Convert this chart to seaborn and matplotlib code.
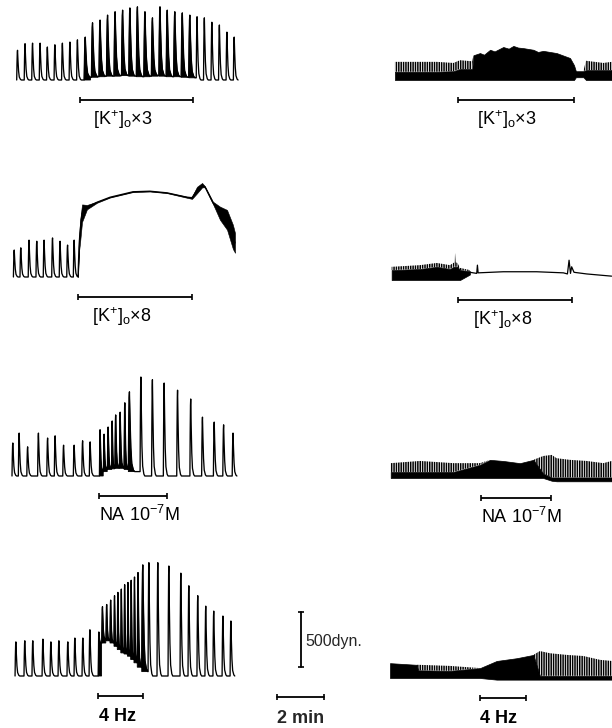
import matplotlib
matplotlib.use("Agg")
import matplotlib.pyplot as plt
import numpy as np
import pandas as pd
import seaborn as sns

sns.set_theme(style="white")
plt.rcParams.update({
    "font.family": ["Liberation Sans", "DejaVu Sans"],
    "mathtext.fontset": "custom",
    "mathtext.rm": "Liberation Sans",
    "mathtext.it": "Liberation Sans:italic",
    "mathtext.bf": "Liberation Sans:bold",
    "hatch.linewidth": 1.1,
    "hatch.color": "black",
})

# ---------------------------------------------------------------- data
# Left column: twitch onsets (min), peak force (dyn), trough force (dyn)
k3_t = [0.20, 0.52, 0.84, 1.16, 1.47, 1.79, 2.11, 2.43, 2.75, 3.07, 3.38, 3.70,
        4.02, 4.34, 4.66, 4.97, 5.29, 5.61, 5.93, 6.25, 6.56, 6.88, 7.20, 7.52,
        7.84, 8.15, 8.47, 8.79, 9.11, 9.42]
k3_peak = [270, 330, 335, 335, 300, 320, 335, 345, 365, 390, 520, 545, 590, 620,
           635, 655, 665, 620, 565, 665, 635, 620, 610, 590, 575, 565, 525, 500,
           435, 390]
k3_trough = [0, 0, 0, 0, 0, 0, 0, 0, 0, 25, 30, 35, 35, 40, 40, 35, 30, 35, 40,
             35, 30, 30, 25, 20, 0, 0, 0, 0, 0, 0]

k8_t = [0.06, 0.34, 0.69, 1.02, 1.33, 1.69, 2.01, 2.33, 2.61]
k8_peak = [245, 265, 335, 325, 335, 355, 325, 290, 335]
k8_trough = [0, 0, 0, 0, 0, 0, 0, 0, 0]
# contracture after the twitches
k8_ct = [2.81, 2.85, 2.89, 2.98, 3.19, 3.62, 4.17, 5.15, 5.87, 6.60, 7.45, 7.66,
         7.87, 8.09, 8.21, 8.55, 8.85, 9.15, 9.40, 9.49]
k8_cf = [0, 270, 400, 580, 635, 680, 725, 775, 780, 765, 725, 720, 790, 835,
         820, 675, 580, 520, 365, 310]
k8_noise = [0, 40, 100, 80, 20, 5, 3, 3, 3, 3, 5, 10, 30, 20, 5, 10, 60, 90,
            110, 90]

na_t = [0.00, 0.27, 0.63, 1.09, 1.48, 1.80, 2.16, 2.61, 2.97, 3.29,
        3.72, 3.89, 4.06, 4.24, 4.38, 4.57, 4.77, 4.95,
        5.45, 5.94, 6.44, 7.01, 7.57, 8.07, 8.57, 8.97, 9.37]
na_peak = [300, 390, 265, 390, 345, 365, 280, 280, 320, 310,
           420, 380, 445, 500, 555, 580, 665, 765,
           900, 875, 845, 780, 700, 535, 490, 465, 390]
na_trough = [0, 0, 0, 0, 0, 0, 0, 0, 0, 0,
             40, 60, 65, 70, 75, 70, 60, 40,
             0, 0, 0, 0, 0, 0, 0, 0, 0]

hz_t = [0.13, 0.51, 0.85, 1.28, 1.62, 1.96, 2.34, 2.64, 2.98, 3.28,
        3.67, 3.82, 4.00, 4.17, 4.34, 4.48, 4.63, 4.77, 4.91, 5.05, 5.19, 5.33, 5.52,
        5.79, 6.17, 6.64, 7.15, 7.49, 7.87, 8.21, 8.55, 8.94, 9.28]
hz_peak = [310, 320, 320, 335, 310, 320, 310, 345, 345, 420,
           400, 630, 650, 690, 730, 760, 790, 830, 850, 870, 900, 940, 1010,
           1030, 1030, 1000, 935, 820, 730, 635, 590, 545, 500]
hz_trough = [0, 0, 0, 0, 0, 0, 0, 0, 0, 0,
             300, 330, 320, 300, 270, 240, 210, 200, 180, 150, 120, 80, 40,
             0, 0, 0, 0, 0, 0, 0, 0, 0, 0]

# Right column: envelope of the fast record (min, dyn)
r1_t = [0.21, 1.28, 1.99, 2.70, 2.98, 3.50, 3.55, 3.83, 4.00, 4.26, 4.45, 4.82,
        5.05, 5.25, 5.45, 5.67, 6.10, 6.30, 6.52, 7.09, 7.66, 7.83, 7.91, 8.23,
        8.34, 9.08, 9.43]
r1_top = [165, 165, 165, 155, 180, 170, 225, 245, 230, 275, 260, 300, 285, 310,
          295, 290, 275, 255, 265, 245, 200, 135, 80, 80, 175, 155, 165]
r1_fused = [75, 75, 75, 80, 100, 100, 225, 245, 230, 275, 260, 300, 285, 310,
            295, 290, 275, 255, 265, 245, 200, 135, 80, 80, 90, 90, 90]
r1_bottom = [0, 0, 0, 0, 0, 0, 0, 0, 0, 0, 0, 0, 0, 0, 0, 0, 0, 0, 0, 0, 0, 0,
             25, 25, 0, 0, 0]

r2_t = [0.07, 1.28, 1.99, 2.55, 2.70, 2.74, 2.77, 2.80, 2.87, 2.98, 3.40]
r2_top = [120, 135, 155, 135, 155, 160, 245, 160, 155, 110, 90]
r2_fused = [90, 100, 120, 100, 120, 120, 120, 120, 120, 90, 80]
r2_bottom = [0, 0, 0, 0, 0, 0, 0, 0, 0, 0, 50]
r2_line_t = [3.40, 3.69, 3.72, 3.75, 4.82, 6.24, 7.38, 7.55, 7.62, 7.68, 7.73,
             7.83, 8.37, 9.43]
r2_line_f = [70, 60, 135, 65, 75, 75, 65, 55, 180, 60, 120, 70, 55, 35]

r3_t = [0.03, 1.28, 2.70, 3.83, 4.26, 4.82, 5.53, 6.10, 6.52, 6.88, 7.09, 7.66,
        8.37, 9.08, 9.43]
r3_top = [135, 155, 135, 135, 165, 155, 135, 165, 200, 210, 180, 165, 155, 135, 155]
r3_fused = [55, 55, 55, 120, 165, 155, 135, 165, 40, 5, 5, 5, 5, 5, 5]
r3_bottom = [0, 0, 0, 0, 0, 0, 0, 0, 0, -25, -30, -30, -30, -30, -30]

r4_t = [0.00, 1.13, 1.20, 2.55, 3.83, 4.54, 5.39, 6.10, 6.38, 6.81, 7.52, 8.23,
        8.94, 9.43]
r4_top = [135, 120, 120, 110, 90, 155, 180, 210, 245, 225, 210, 200, 165, 155]
r4_fused = [135, 120, 70, 65, 90, 155, 180, 210, 20, 20, 20, 20, 20, 20]
r4_bottom = [0, 0, 0, 0, 0, -15, -15, -15, -15, -15, -15, -15, -15, -15]

# Stimulus periods (min) and labels
K3_LABEL = r"$[\mathrm{K}^{+}]_{\mathrm{o}}{\times}3$"
K8_LABEL = r"$[\mathrm{K}^{+}]_{\mathrm{o}}{\times}8$"
NA_LABEL = r"NA 10$^{-7}$M"
HZ_LABEL = "4 Hz"
left_stim = [(2.89, 7.70), (2.81, 7.66), (3.70, 6.60), (3.66, 5.57)]
right_stim = [(2.89, 7.83), (2.89, 7.74), (3.87, 6.85), (3.83, 5.79)]

CAL_FORCE = 500   # dyn
CAL_TIME = 2      # min

# ---------------------------------------------------------------- layout
W, H = 612, 728
PX_PER_MIN = 23.5
PX_PER_DYN = 55 / 500
LEFT_T0, RIGHT_T0 = 12, 390
left_base = [80, 277, 476, 676]
right_base = [80, 280, 478, 678]
BAR_DROP = 19.5
LABEL_DROP = 45

# twitch template: (min after onset, fraction of the amplitude)
SHAPE_UP = [(0.00, 0.0), (0.012, 0.55), (0.025, 0.92), (0.035, 1.0)]
SHAPE_DOWN = [(0.055, 0.65), (0.08, 0.30), (0.11, 0.10), (0.16, 0.02), (0.20, 0.0)]
FUSED_STRETCH = 1.35

fig = plt.figure(figsize=(W / 100, H / 100), dpi=100)
fig.patch.set_facecolor("white")


def panel(x0, x1, t0, base, above=130, below=60):
    ax = fig.add_axes([x0 / W, 1 - (base + below) / H, (x1 - x0) / W,
                       (above + below) / H])
    ax.set_xlim((x0 - t0) / PX_PER_MIN, (x1 - t0) / PX_PER_MIN)
    ax.set_ylim(-below / PX_PER_DYN, above / PX_PER_DYN)
    ax.set_axis_off()
    ax.patch.set_alpha(0)
    return ax


def twitches(times, peaks, troughs):
    xs, ys, fused = [], [], []
    level = 0.0
    span = SHAPE_DOWN[-1][0]
    for i, (t, p, r) in enumerate(zip(times, peaks, troughs)):
        s = FUSED_STRETCH if r > 0 else 1.0
        if i + 1 < len(times):
            s = min(s, 0.95 * (times[i + 1] - t) / span)
        sx, sy = [], []
        for dt, f in SHAPE_UP:
            sx.append(t + dt * s)
            sy.append(level + (p - level) * f)
        for dt, f in SHAPE_DOWN:
            sx.append(t + dt * s)
            sy.append(r + (p - r) * f)
        xs += sx
        ys += sy
        if r > 0:
            fused.append((sx, sy, min(level, r)))
        level = r
    return xs, ys, fused


def draw_trace(ax, xs, ys, fused):
    df = pd.DataFrame({"min": xs, "dyn": ys})
    sns.lineplot(data=df, x="min", y="dyn", sort=False, estimator=None,
                 color="black", lw=0.95, ax=ax)
    for sx, sy, lo in fused:
        ax.fill(sx + [sx[-1], sx[0]], sy + [lo, lo], color="black", lw=0.6)


def draw_fast(ax, t, top, fused, bottom):
    t = np.asarray(t)
    ax.fill_between(t, bottom, fused, color="black", lw=0.5)
    ax.fill_between(t, fused, top, facecolor="none", edgecolor="black",
                    hatch="|" * 7, lw=0)


def stim(ax, t0, t1, label, offset_px, bold=False, size=13):
    y = -BAR_DROP / PX_PER_DYN
    ax.plot([t0, t1], [y, y], color="black", lw=1.3, solid_capstyle="butt")
    ax.plot([t0, t1], [y, y], ls="none", marker="|", ms=5, mew=1.2,
            color="black")
    ax.text(t0 + offset_px / PX_PER_MIN, -LABEL_DROP / PX_PER_DYN, label,
            ha="left", va="baseline", fontsize=size,
            fontweight="bold" if bold else "normal", color="black")


left_axes = [panel(0, 378, LEFT_T0, b) for b in left_base]
right_axes = [panel(380, 612, RIGHT_T0, b) for b in right_base]

# row 1: [K+]o x3
draw_trace(left_axes[0], *twitches(k3_t, k3_peak, k3_trough))
draw_fast(right_axes[0], r1_t, r1_top, r1_fused, r1_bottom)

# row 2: [K+]o x8 — twitches then contracture
xs, ys, fz = twitches(k8_t, k8_peak, k8_trough)
draw_trace(left_axes[1], xs + k8_ct, ys + k8_cf, fz)
ct = np.asarray(k8_ct)
cf = np.asarray(k8_cf)
cn = np.asarray(k8_noise)
left_axes[1].fill_between(ct, cf - cn, cf + cn, color="black", lw=0.4)
draw_fast(right_axes[1], r2_t, r2_top, r2_fused, r2_bottom)
sns.lineplot(x=r2_line_t, y=r2_line_f, sort=False, estimator=None,
             color="black", lw=0.9, ax=right_axes[1])

# row 3: noradrenaline
draw_trace(left_axes[2], *twitches(na_t, na_peak, na_trough))
draw_fast(right_axes[2], r3_t, r3_top, r3_fused, r3_bottom)

# row 4: 4 Hz stimulation
draw_trace(left_axes[3], *twitches(hz_t, hz_peak, hz_trough))
draw_fast(right_axes[3], r4_t, r4_top, r4_fused, r4_bottom)

labels = [(K3_LABEL, 13, 19, False), (K8_LABEL, 14, 15, False),
          (NA_LABEL, 0, 0, False), (HZ_LABEL, 1, 0, True)]
for i, (lab, off_l, off_r, bold) in enumerate(labels):
    stim(left_axes[i], *left_stim[i], lab, off_l, bold)
    stim(right_axes[i], *right_stim[i], lab, off_r, bold)

# calibration bars
cal = left_axes[3]
cx = (301 - LEFT_T0) / PX_PER_MIN
cy0 = 80
cal.plot([cx, cx], [cy0, cy0 + CAL_FORCE], color="black", lw=1.3)
cal.plot([cx, cx], [cy0, cy0 + CAL_FORCE], ls="none", marker="_", ms=5,
         mew=1.2, color="black")
cal.text(cx + 4 / PX_PER_MIN, cy0 + CAL_FORCE / 2 - 20, "500dyn.",
         ha="left", va="center", fontsize=11.5)
tx0 = (277 - LEFT_T0) / PX_PER_MIN
ty = -21 / PX_PER_DYN
cal.plot([tx0, tx0 + CAL_TIME], [ty, ty], color="black", lw=1.3)
cal.plot([tx0, tx0 + CAL_TIME], [ty, ty], ls="none", marker="|", ms=5,
         mew=1.2, color="black")
cal.text(tx0 + CAL_TIME / 2, -47 / PX_PER_DYN, "2 min", ha="center",
         va="baseline", fontsize=13, fontweight="bold")

fig.savefig("out.png", dpi=100, facecolor="white")
